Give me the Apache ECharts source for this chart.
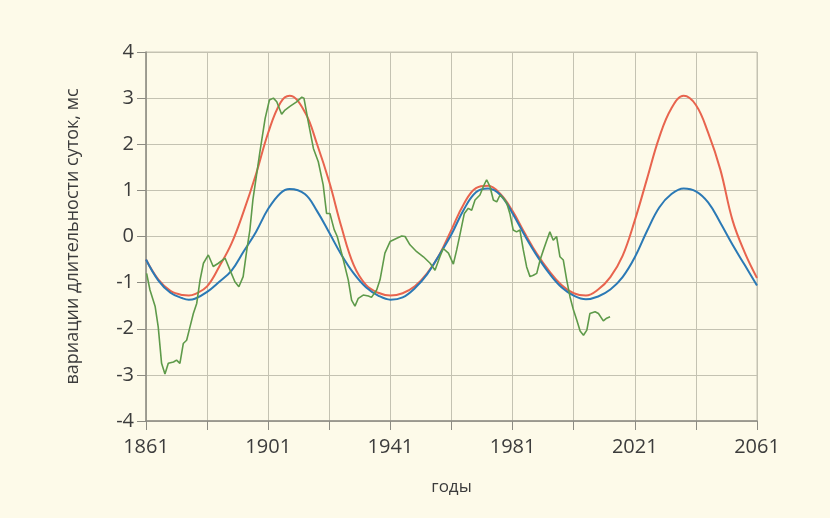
<!DOCTYPE html>
<html>
<head>
<meta charset="utf-8">
<script src="https://cdn.jsdelivr.net/npm/echarts@6/dist/echarts.min.js"></script>
<style>
  html, body { margin: 0; padding: 0; background: #fdfae9; }
  #chart { width: 830px; height: 518px; }
</style>
</head>
<body>
<div id="chart"></div>
<script>
// годы for the smooth model curves
const years = [1861, 1865, 1869, 1873, 1875, 1877, 1881, 1885, 1889, 1893, 1897, 1901, 1905, 1908, 1913, 1917, 1921, 1925, 1929, 1933, 1937, 1941, 1945, 1949, 1953, 1957, 1961, 1965, 1969, 1973, 1977, 1981, 1985, 1989, 1993, 1997, 2001, 2005, 2009, 2013, 2017, 2021, 2025, 2029, 2033, 2037, 2041, 2045, 2049, 2053, 2057, 2061]

const redValues = [-0.50, -0.93, -1.18, -1.27, -1.28, -1.25, -1.08, -0.65, -0.15, 0.55, 1.35, 2.25, 2.90, 3.05, 2.70, 2.00, 1.18, 0.20, -0.62, -1.05, -1.22, -1.28, -1.23, -1.08, -0.80, -0.40, 0.15, 0.70, 1.05, 1.10, 0.92, 0.55, 0.07, -0.38, -0.75, -1.05, -1.23, -1.28, -1.15, -0.88, -0.42, 0.35, 1.25, 2.15, 2.78, 3.05, 2.85, 2.25, 1.45, 0.35, -0.35, -0.90]

const blueValues = [-0.50, -0.95, -1.22, -1.34, -1.37, -1.35, -1.20, -0.98, -0.74, -0.32, 0.10, 0.60, 0.94, 1.03, 0.92, 0.55, 0.08, -0.40, -0.80, -1.10, -1.28, -1.37, -1.32, -1.12, -0.82, -0.40, 0.05, 0.58, 0.96, 1.04, 0.90, 0.50, 0.02, -0.42, -0.80, -1.10, -1.28, -1.36, -1.30, -1.15, -0.88, -0.45, 0.12, 0.63, 0.92, 1.04, 0.98, 0.74, 0.30, -0.18, -0.62, -1.06]

// observed series
const greenYears = [1861.2, 1862.3, 1864, 1865, 1866.1, 1867.2, 1868.3, 1870, 1871, 1872.1, 1873.2, 1874.3, 1875.4, 1876.5, 1877.6, 1878.7, 1879.8, 1881.4, 1883, 1884.7, 1886.9, 1888.5, 1890.1, 1891.4, 1892.8, 1894, 1895, 1896, 1898.3, 1900, 1901.4, 1902.7, 1903.8, 1905.4, 1906.5, 1908.1, 1910.3, 1912, 1912.7, 1914.1, 1915.8, 1917.4, 1919, 1920.1, 1921.2, 1922.6, 1923.6, 1925.6, 1927.2, 1928.3, 1929.4, 1930.5, 1932.1, 1933.8, 1934.8, 1936.5, 1937.6, 1939.2, 1940.9, 1943.1, 1944.7, 1945.8, 1947.4, 1949.6, 1951.8, 1954, 1955.6, 1956.2, 1957.2, 1958.3, 1960, 1961.6, 1962.7, 1963.8, 1965.2, 1966.5, 1967.6, 1968.7, 1970.3, 1971.4, 1972.5, 1973.6, 1974.7, 1975.8, 1976.9, 1978, 1979.1, 1980.1, 1981.2, 1982.3, 1983.4, 1984.5, 1985.6, 1986.7, 1987.8, 1988.9, 1990, 1991.1, 1992.2, 1993.2, 1994.3, 1995.4, 1996.5, 1997.6, 1998.7, 1999.8, 2000.9, 2002, 2003.1, 2004.2, 2005.3, 2006.3, 2008, 2009.1, 2010.7, 2011.8, 2012.9]
const greenValues = [-0.80, -1.16, -1.52, -1.96, -2.75, -2.98, -2.75, -2.72, -2.68, -2.75, -2.32, -2.25, -1.96, -1.67, -1.45, -0.94, -0.58, -0.40, -0.65, -0.58, -0.47, -0.73, -0.98, -1.09, -0.87, -0.29, 0.14, 0.80, 1.84, 2.56, 2.96, 3.00, 2.92, 2.65, 2.74, 2.82, 2.92, 3.02, 3.00, 2.49, 1.91, 1.62, 1.12, 0.50, 0.50, 0.15, 0.00, -0.51, -0.94, -1.38, -1.51, -1.34, -1.27, -1.29, -1.32, -1.16, -0.94, -0.36, -0.11, -0.04, 0.01, 0.00, -0.18, -0.33, -0.44, -0.58, -0.73, -0.73, -0.44, -0.26, -0.36, -0.60, -0.29, 0.05, 0.50, 0.61, 0.57, 0.79, 0.90, 1.08, 1.23, 1.08, 0.79, 0.75, 0.90, 0.83, 0.72, 0.50, 0.14, 0.10, 0.14, -0.29, -0.66, -0.87, -0.84, -0.80, -0.51, -0.29, -0.08, 0.10, -0.08, 0.00, -0.44, -0.51, -0.94, -1.31, -1.59, -1.81, -2.05, -2.14, -2.03, -1.67, -1.63, -1.67, -1.83, -1.77, -1.74]

const zip = (xs, ys) => xs.map((x, i) => [x, ys[i]])

const textColor = '#3c3c3c'
const gridColor = '#c4c2b2'
const axisColor = '#8c8b82'
const font = '"Open Sans", "Noto Sans", sans-serif'

const chart = echarts.init(document.getElementById('chart'))

const option = {
  backgroundColor: '#fdfae9',
  animation: false,
  grid: {
    left: 146,
    right: 73,
    top: 52,
    bottom: 97,
    show: true,
    borderColor: gridColor,
    borderWidth: 1,
    backgroundColor: 'transparent'
  },
  xAxis: {
    type: 'value',
    min: 1861,
    max: 2061,
    interval: 20,
    name: 'годы',
    nameLocation: 'middle',
    nameGap: 58,
    nameTextStyle: { color: textColor, fontSize: 17, fontFamily: font },
    axisLine: { show: true, onZero: false, lineStyle: { color: axisColor, width: 1.5 } },
    axisTick: { show: true, length: 9, lineStyle: { color: axisColor } },
    axisLabel: {
      color: textColor,
      fontSize: 20,
      fontFamily: font,
      margin: 16,
      formatter: (v) => ((v - 1861) % 40 === 0 ? String(v) : '')
    },
    splitLine: { show: true, lineStyle: { color: gridColor, width: 1 } }
  },
  yAxis: {
    type: 'value',
    min: -4,
    max: 4,
    interval: 1,
    name: 'вариации длительности суток, мс',
    nameLocation: 'middle',
    nameGap: 64,
    nameRotate: 90,
    nameTextStyle: { color: textColor, fontSize: 18, fontFamily: font },
    axisLine: { show: true, onZero: false, lineStyle: { color: axisColor, width: 1.5 } },
    axisTick: { show: true, length: 9, lineStyle: { color: axisColor } },
    axisLabel: { color: textColor, fontSize: 20, fontFamily: font, margin: 12 },
    splitLine: { show: true, lineStyle: { color: gridColor, width: 1 } }
  },
  series: [
    {
      name: 'red',
      type: 'line',
      smooth: 0.4,
      showSymbol: false,
      data: zip(years, redValues),
      lineStyle: { color: '#e8644e', width: 2 },
      z: 2
    },
    {
      name: 'blue',
      type: 'line',
      smooth: 0.4,
      showSymbol: false,
      data: zip(years, blueValues),
      lineStyle: { color: '#2b79b5', width: 2 },
      z: 3
    },
    {
      name: 'green',
      type: 'line',
      showSymbol: false,
      data: zip(greenYears, greenValues),
      lineStyle: { color: '#5e9a4a', width: 1.6 },
      z: 4
    }
  ]
}

chart.setOption(option)
</script>
</body>
</html>
